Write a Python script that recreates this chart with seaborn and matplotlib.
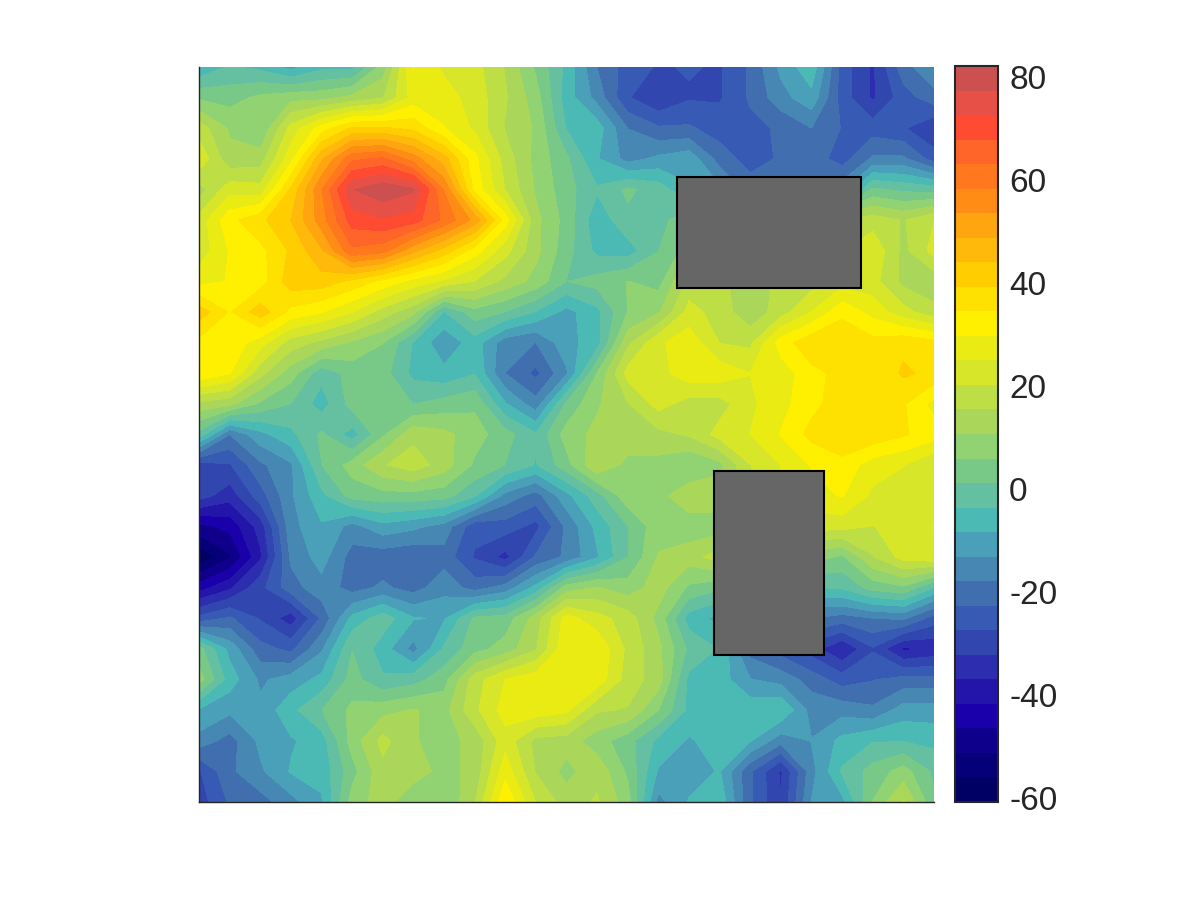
import numpy as np
import pandas as pd
import matplotlib
matplotlib.use("Agg")
import matplotlib.pyplot as plt
from matplotlib.patches import Rectangle
import seaborn as sns

# values, one row per 1/24 of the panel height, top to bottom
field_rows = [
    [-8, -3, -5, -10, -5, -5, 8, 30, 24, 22, 15, 5, -5, -18, -25, -28, -27, -28, -22, -12, -5, -25, -33, -20, -14],
    [5, 4, 7, 9, 9, 12, 15, 27, 27, 23, 16, 8, -6, -15, -27, -32, -28, -28, -22, -15, -10, -25, -33, -25, -20],
    [18, 10, 6, 22, 32, 40, 40, 38, 30, 24, 15, 10, -4, -6, -18, -22, -22, -25, -24, -22, -18, -23, -25, -27, -32],
    [24, 12, 13, 28, 48, 62, 64, 56, 46, 31, 18, 9, 2, -8, -15, -12, -10, -20, -25, -22, -20, -25, -17, -17, -25],
    [13, 23, 22, 40, 58, 77, 81, 78, 58, 33, 20, 10, 3, -3, 2, -1, -8, -12, -20, -20, -18, -15, 2, 0, -1],
    [22, 33, 38, 44, 56, 70, 72, 70, 62, 52, 32, 12, 4, -7, 0, -1, 5, 5, 5, 5, 10, 15, 18, 15, 20],
    [22, 30, 33, 40, 48, 62, 60, 50, 42, 32, 22, 12, 3, -5, -6, 1, 8, 10, 12, 14, 16, 20, 24, 14, 22],
    [28, 30, 32, 42, 42, 38, 33, 28, 24, 20, 14, 9, 1, 3, 6, 4, 17, 16, 14, 16, 18, 23, 22, 14, 12],
    [42, 34, 42, 33, 30, 25, 18, 12, -4, 4, 1, -4, -10, -5, 6, 10, 22, 18, 12, 18, 25, 33, 28, 22, 17],
    [33, 33, 27, 18, 14, 10, 6, -4, -12, -6, -16, -18, -10, -6, 14, 24, 28, 20, 19, 32, 38, 39, 36, 38, 36],
    [34, 30, 17, 8, -2, 3, 3, -5, -7, -4, -18, -24, -14, 6, 22, 23, 28, 28, 25, 27, 33, 36, 35, 40, 38],
    [14, 12, 5, 1, -6, 3, 5, 1, 3, 5, -8, -16, 2, 10, 15, 22, 18, 18, 24, 28, 33, 37, 37, 35, 28],
    [-1, -18, -10, -5, 2, -6, 5, 14, 12, 8, 3, -3, 8, 12, 14, 14, 16, 22, 25, 30, 36, 38, 38, 35, 32],
    [-30, -28, -19, -14, 1, 8, 15, 18, 13, 5, 1, -4, 4, 15, 9, 9, 6, 9, 20, 25, 30, 33, 27, 25, 20],
    [-30, -35, -25, -14, -5, 3, 4, 4, 3, -3, -15, -20, -10, -1, 9, 9, 14, 14, 20, 25, 28, 30, 24, 24, 24],
    [-48, -45, -35, -15, -9, -15, -10, -12, -15, -26, -25, -29, -17, -7, 1, 9, 8, 8, 12, 18, 22, 22, 20, 22, 25],
    [-60, -52, -38, -17, -11, -20, -21, -22, -20, -28, -34, -22, -17, -9, 1, 11, 13, 18, 15, 12, 8, 5, 15, 22, 24],
    [-44, -38, -29, -20, -15, -20, -17, -20, -15, -20, -16, -7, 8, 11, 8, 13, 5, 2, 0, -2, -4, -3, 3, 5, -4],
    [-26, -22, -28, -35, -22, -7, -1, -8, -9, 2, 3, 13, 27, 22, 18, 9, -6, -10, -18, -18, -18, -20, -18, -17, -25],
    [3, -10, -21, -24, -14, 1, -6, -15, -3, 4, 8, 15, 29, 29, 19, 12, 0, -4, -20, -25, -30, -37, -28, -38, -36],
    [8, -6, -14, -11, -7, 3, -3, -1, 4, 18, 25, 28, 29, 28, 18, 13, -5, -6, -13, -15, -20, -25, -23, -21, -21],
    [-9, -12, -12, -5, 1, 7, 9, 11, 9, 19, 27, 28, 26, 16, 15, 6, -5, -7, -5, -4, -15, -15, -17, -11, -11],
    [-15, -20, -12, -9, -6, 8, 17, 11, 9, 12, 23, 14, 13, 8, 3, -5, -9, -6, -8, -16, -13, -7, -4, -4, -5],
    [-28, -19, -14, -8, -7, 4, 14, 13, 9, 12, 28, 15, 9, 14, 5, -9, -11, -8, -22, -33, -15, -3, 3, 8, 0],
    [-30, -22, -20, -15, -9, 8, 13, 7, 6, 15, 34, 20, 13, 16, 8, -15, -8, -5, -22, -32, -13, -10, 6, 16, 2],
]

band_colors = [
    "#000064", "#050078", "#0f008c", "#1900aa", "#2314aa", "#2d2daf", "#3246af", "#375ab4",
    "#416eaf", "#4687b4", "#4ba0b9", "#4bb9b4", "#64c0a0", "#78c887", "#91d273", "#aad75a",
    "#bede46", "#d7e628", "#ebeb14", "#fff000", "#ffe100", "#ffcd00", "#ffb90a", "#ffa50f",
    "#ff8c14", "#ff781e", "#ff6428", "#ff4b32", "#e65046", "#cd5050",
]
colorbar_ticks = [-60, -40, -20, 0, 20, 40, 60, 80]
value_min = -60.8
value_max = 82.1

sns.set_theme(style="white")
plt.rcParams["font.family"] = ["Liberation Sans", "DejaVu Sans"]
plt.rcParams["axes.unicode_minus"] = False

grid = pd.DataFrame(field_rows)
cmap = sns.color_palette(band_colors, as_cmap=True)
levels = np.linspace(value_min, value_max, len(band_colors) + 1)

fig = plt.figure(figsize=(12, 9), dpi=100)
ax = fig.add_axes([199 / 1200, 98 / 900, 735 / 1200, 735 / 900])
cax = fig.add_axes([955 / 1200, 98 / 900, 43 / 1200, 736 / 900])

# heatmap gives the axes and the colorbar, contourf draws the bands on top
sns.heatmap(grid, ax=ax, cbar_ax=cax, cmap=cmap, vmin=value_min, vmax=value_max,
            xticklabels=False, yticklabels=False, cbar_kws={"ticks": colorbar_ticks})

n = len(field_rows)
pos = np.linspace(0, n, n)
ax.contourf(pos, pos, grid.values, levels=levels, colors=band_colors, zorder=2)

# the two grey blocks, in fractions of the panel
for x0, y0, w, h in [(0.65, 0.15, 0.25, 0.15), (0.70, 0.55, 0.15, 0.25)]:
    ax.add_patch(Rectangle((x0 * n, y0 * n), w * n, h * n, facecolor="#666666",
                           edgecolor="black", linewidth=1.5, zorder=3))

for side in ["top", "right"]:
    ax.spines[side].set_visible(False)
for side in ["left", "bottom"]:
    ax.spines[side].set_visible(True)
    ax.spines[side].set_color("#262626")
    ax.spines[side].set_linewidth(1.0)
    ax.spines[side].set_zorder(5)

cbar = ax.collections[0].colorbar
cbar.outline.set_visible(True)
cbar.outline.set_linewidth(1.5)
cbar.outline.set_edgecolor("#262626")
cax.tick_params(axis="y", direction="in", length=8, width=1.2, color="#262626",
                labelsize=24, labelcolor="#262626", right=True, pad=8)

fig.savefig("out.png", dpi=100)
